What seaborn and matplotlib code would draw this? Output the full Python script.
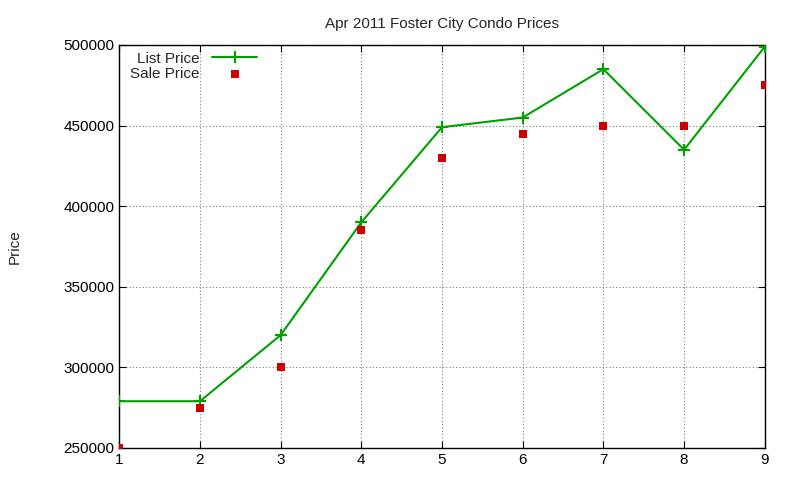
import matplotlib
matplotlib.use('Agg')
import matplotlib.pyplot as plt
import pandas as pd
import seaborn as sns

sns.set_style('white')
plt.rcParams['font.family'] = ['Liberation Sans', 'DejaVu Sans']

months = [1, 2, 3, 4, 5, 6, 7, 8, 9]
list_price = [279000, 279000, 320000, 390000, 449000, 455000, 485000, 435000, 499000]
sale_price = [250000, 275000, 300000, 385000, 430000, 445000, 450000, 450000, 475000]

df = pd.DataFrame({'x': months, 'list': list_price, 'sale': sale_price})

fig = plt.figure(figsize=(8, 4.8), dpi=100)
ax = fig.add_axes([0.149, 0.0667, 0.807, 0.8396])

sns.lineplot(data=df, x='x', y='list', ax=ax, color='#00a000', linewidth=1.5,
             marker='+', markersize=8, markeredgewidth=1.5, markeredgecolor='#00a000',
             label='List Price', zorder=3)
sns.scatterplot(data=df, x='x', y='sale', ax=ax, color='#cc0000', marker='s',
                s=36, edgecolor='#cc0000', linewidth=0, label='Sale Price', zorder=3)

ax.set_xlim(1, 9)
ax.set_ylim(250000, 500000)
ax.set_xticks(months)
ax.set_yticks(range(250000, 500001, 50000))
ax.grid(True, color='#808080', linestyle=(0, (1, 2)), linewidth=0.8)
for s in ax.spines.values():
    s.set_color('black')
    s.set_linewidth(1)
ax.tick_params(axis='both', direction='in', length=5, labelsize=11, colors='black',
               left=True, bottom=True, right=True, top=True)
ax.set_xlabel('')
ax.set_ylabel('Price', fontsize=11, labelpad=30)
ax.set_title('Apr 2011 Foster City Condo Prices', fontsize=11, pad=12)

ax.legend(loc='upper left', bbox_to_anchor=(0.0, 1.01), frameon=False, markerfirst=False,
          fontsize=11, handlelength=3, labelspacing=0.1, borderaxespad=0.3)

fig.savefig('out.png', dpi=100)
